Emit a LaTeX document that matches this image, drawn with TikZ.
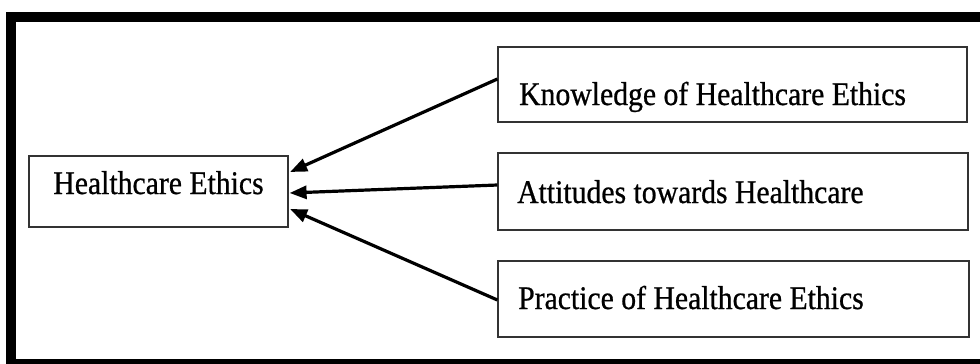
\documentclass[tikz,border=0pt]{standalone}
\usepackage{fontspec}
\setmainfont{Liberation Serif}[FakeStretch=0.9,FakeBold=0.7]
\usetikzlibrary{arrows.meta}
\tikzset{
  box/.style={draw=black!80, line width=1.2pt, rectangle, inner sep=0pt},
  lbl/.style={inner sep=0pt, font=\fontsize{33}{38}\selectfont},
  conn/.style={line width=3.2pt, -{Triangle[length=17pt,width=13pt]}}
}
\begin{document}
\begin{tikzpicture}[x=1pt,y=-1pt]
\useasboundingbox (0,0) rectangle (980,364);
\fill[white] (0,0) rectangle (980,364);
\begin{scope}
\clip (0,0) rectangle (980,364);
\draw[line width=10.5pt] (11,17) rectangle (1000,364.5);
\end{scope}
% boxes
\node[box, minimum width=259pt, minimum height=71pt] (he) at (158.5,191.5) {};
\node[box, minimum width=469pt, minimum height=75pt] (k) at (732.5,84.5) {};
\node[box, minimum width=470pt, minimum height=77pt] (a) at (733,191.5) {};
\node[box, minimum width=471pt, minimum height=76pt] (p) at (733.5,299) {};
% texts
\node[lbl, anchor=base] (het) at (158.5,194) {Healthcare Ethics};
\node[lbl, anchor=base west] (kt) at (519,105) {Knowledge of Healthcare Ethics};
\node[lbl, anchor=base west] (at) at (517,203) {Attitudes towards Healthcare};
\node[lbl, anchor=base west] (pt) at (518,309) {Practice of Healthcare Ethics};
% connectors
\draw[conn] ([yshift=5.5pt]k.west) -- ([xshift=1.5pt,yshift=19.5pt]he.east);
\draw[conn] ([yshift=6.5pt]a.west) -- ([xshift=1pt,yshift=-1.5pt]he.east);
\draw[conn] ([yshift=-1pt]p.west) -- ([xshift=1.5pt,yshift=-17.5pt]he.east);
\end{tikzpicture}
\end{document}
